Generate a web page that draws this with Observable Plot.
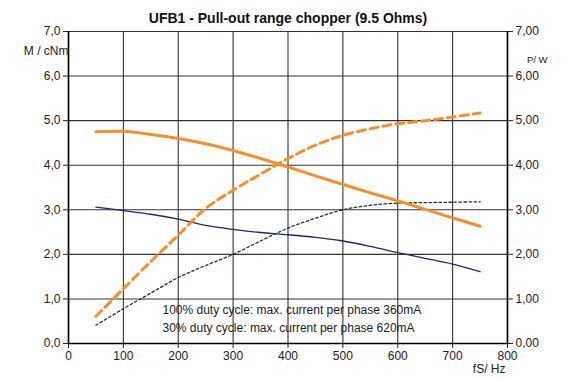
<!DOCTYPE html>
<html><head><meta charset="utf-8">
<script src="https://cdn.jsdelivr.net/npm/d3@7"></script>
<script src="https://cdn.jsdelivr.net/npm/@observablehq/plot@0.6"></script>
<style>body{margin:0;background:#fff;font-family:"Liberation Sans",Arial,sans-serif}</style>
</head><body><div id="chart"></div>
<script>
const title = "UFB1 - Pull-out range chopper (9.5 Ohms)";
const freq = [50,100,150,200,250,300,350,400,450,500,550,600,650,700,750];
const torque30 = [4.75,4.76,4.69,4.60,4.48,4.33,4.15,3.96,3.76,3.57,3.38,3.20,3.01,2.82,2.63];
const torque100 = [3.06,2.98,2.90,2.79,2.65,2.56,2.49,2.44,2.38,2.30,2.18,2.04,1.91,1.78,1.61];
const power30 = [0.61,1.23,1.84,2.43,3.03,3.44,3.80,4.15,4.45,4.67,4.82,4.93,5.00,5.08,5.17];
const power100 = [0.41,0.78,1.13,1.48,1.75,2.00,2.30,2.59,2.81,3.00,3.10,3.15,3.16,3.17,3.18];
const xTicks = [0,100,200,300,400,500,600,700,800];
const yTicks = [0,1,2,3,4,5,6,7];
const note1 = "100% duty cycle: max. current per phase 360mA";
const note2 = "30% duty cycle: max. current per phase 620mA";

const rows = (ys) => freq.map((f,i)=>({f, v: ys[i]}));
const fmt1 = d => d.toFixed(1).replace(".", ",");
const fmt2 = d => d.toFixed(2).replace(".", ",");

const plot = Plot.plot({
  width: 577, height: 380,
  marginLeft: 68, marginRight: 70, marginTop: 31, marginBottom: 37,
  style: {fontFamily:"Liberation Sans, Arial, sans-serif", fontSize:"12px", color:"#222", background:"#fff"},
  x: {domain:[0,800]},
  y: {domain:[0,7]},
  marks: [
    Plot.gridX(xTicks, {stroke:"#333", strokeOpacity:1, strokeWidth:1.1}),
    Plot.gridY(yTicks, {stroke:"#333", strokeOpacity:1, strokeWidth:1.1}),
    Plot.ruleX([0, 800], {stroke:"#000", strokeWidth:1.6}),
    Plot.ruleY([0], {stroke:"#000", strokeWidth:1.6}),
    Plot.axisX(xTicks, {tickSize:5, tickPadding:3, label:null, tickFormat:d=>String(d), fontSize:12}),
    Plot.axisY(yTicks, {anchor:"left", tickSize:5, tickPadding:3, label:null, tickFormat:fmt1, fontSize:12}),
    Plot.axisY(yTicks, {anchor:"right", tickSize:5, tickPadding:3, label:null, tickFormat:fmt2, fontSize:12}),
    Plot.line(rows(power100), {x:"f", y:"v", stroke:"#1d3a22", strokeWidth:1.3, strokeDasharray:"2.5,2.5", curve:"catmull-rom"}),
    Plot.line(rows(torque100), {x:"f", y:"v", stroke:"#23237a", strokeWidth:1.3, curve:"catmull-rom"}),
    Plot.line(rows(power30), {x:"f", y:"v", stroke:"#f7902a", strokeWidth:3, strokeDasharray:"8,5", curve:"catmull-rom"}),
    Plot.line(rows(torque30), {x:"f", y:"v", stroke:"#f7902a", strokeWidth:3, curve:"catmull-rom"}),
    Plot.text([title], {frameAnchor:"top", dy:-18, fontWeight:"bold", fontSize:14, fill:"#111"}),
    Plot.text(["M / cNm"], {frameAnchor:"top-left", dx:0, dy:15, textAnchor:"end", fontSize:12}),
    Plot.text(["P/ W"], {frameAnchor:"top-right", dx:40, dy:25, fontSize:9.5}),
    Plot.text(["fS/ Hz"], {frameAnchor:"bottom-right", dx:-2, dy:29, textAnchor:"end", fontSize:12}),
    Plot.text([note1], {frameAnchor:"bottom-left", dx:94, dy:-30, textAnchor:"start", fontSize:12}),
    Plot.text([note2], {frameAnchor:"bottom-left", dx:94, dy:-12, textAnchor:"start", fontSize:12}),
  ]
});
document.getElementById("chart").appendChild(plot);
</script></body></html>
